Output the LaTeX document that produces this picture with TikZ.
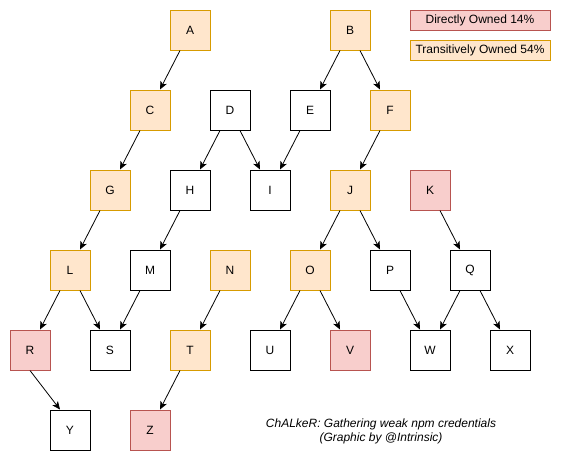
\documentclass[tikz,border=0pt]{standalone}
\usepackage{fontspec}
\setmainfont{Liberation Sans}
\usepackage[rgb]{xcolor}
\usetikzlibrary{arrows.meta}

\definecolor{directfill}{HTML}{F8CECC}
\definecolor{directdraw}{HTML}{B85450}
\definecolor{transfill}{HTML}{FFE6CC}
\definecolor{transdraw}{HTML}{D79B00}

\tikzset{
 pkg/.style={draw, line width=1pt, minimum size=40pt, inner sep=0pt, font=\fontsize{12}{14}\selectfont},
 direct/.style={pkg, fill=directfill, draw=directdraw},
 trans/.style={pkg, fill=transfill, draw=transdraw},
 legend/.style={minimum width=140pt, minimum height=20pt},
 dep/.style={-{Stealth[length=8pt,width=7pt,inset=2pt]}, line width=0.8pt, black}
}

\begin{document}
\begin{tikzpicture}[x=1pt, y=-1pt]

\useasboundingbox (0,0) rectangle (561,461);

%% packages, row by row
\path
(190,30) node[trans](A) {A}
(350,30) node[trans](B) {B}
(150,110) node[trans](C) {C}
(230,110) node[pkg](D) {D}
(310,110) node[pkg](E) {E}
(390,110) node[trans](F) {F}
(110,190) node[trans](G) {G}
(190,190) node[pkg](H) {H}
(270,190) node[pkg](I) {I}
(350,190) node[trans](J) {J}
(430,190) node[direct](K) {K}
(70,270) node[trans](L) {L}
(150,270) node[pkg](M) {M}
(230,270) node[trans](N) {N}
(310,270) node[trans](O) {O}
(390,270) node[pkg](P) {P}
(470,270) node[pkg](Q) {Q}
(30,350) node[direct](R) {R}
(110,350) node[pkg](S) {S}
(190,350) node[trans](T) {T}
(270,350) node[pkg](U) {U}
(350,350) node[direct](V) {V}
(430,350) node[pkg](W) {W}
(510,350) node[pkg](X) {X}
(70,430) node[pkg](Y) {Y}
(150,430) node[direct](Z) {Z};

%% legend
\path
(480,20) node[direct, legend](directly) {Directly Owned 14\%}
(480,50) node[trans, legend](transitively) {Transitively Owned 54\%};

%% dependencies going down-left
\draw[dep] ([xshift=-10pt]A.south) -- ([xshift=10pt]C.north);
\draw[dep] ([xshift=-10pt]B.south) -- ([xshift=10pt]E.north);
\draw[dep] ([xshift=-10pt]C.south) -- ([xshift=10pt]G.north);
\draw[dep] ([xshift=-10pt]D.south) -- ([xshift=10pt]H.north);
\draw[dep] ([xshift=-10pt]E.south) -- ([xshift=10pt]I.north);
\draw[dep] ([xshift=-10pt]F.south) -- ([xshift=10pt]J.north);
\draw[dep] ([xshift=-10pt]G.south) -- ([xshift=10pt]L.north);
\draw[dep] ([xshift=-10pt]H.south) -- ([xshift=10pt]M.north);
\draw[dep] ([xshift=-10pt]J.south) -- ([xshift=10pt]O.north);
\draw[dep] ([xshift=-10pt]L.south) -- ([xshift=10pt]R.north);
\draw[dep] ([xshift=-10pt]M.south) -- ([xshift=10pt]S.north);
\draw[dep] ([xshift=-10pt]N.south) -- ([xshift=10pt]T.north);
\draw[dep] ([xshift=-10pt]O.south) -- ([xshift=10pt]U.north);
\draw[dep] ([xshift=-10pt]Q.south) -- ([xshift=10pt]W.north);
\draw[dep] ([xshift=-10pt]T.south) -- ([xshift=10pt]Z.north);

%% dependencies going down-right
\draw[dep] ([xshift=10pt]B.south) -- ([xshift=-10pt]F.north);
\draw[dep] ([xshift=10pt]D.south) -- ([xshift=-10pt]I.north);
\draw[dep] ([xshift=10pt]J.south) -- ([xshift=-10pt]P.north);
\draw[dep] ([xshift=10pt]K.south) -- ([xshift=-10pt]Q.north);
\draw[dep] ([xshift=10pt]L.south) -- ([xshift=-10pt]S.north);
\draw[dep] ([xshift=10pt]O.south) -- ([xshift=-10pt]V.north);
\draw[dep] ([xshift=10pt]P.south) -- ([xshift=-10pt]W.north);
\draw[dep] ([xshift=10pt]Q.south) -- ([xshift=-10pt]X.north);
\draw[dep] (R.south) -- ([xshift=-10pt]Y.north);

%% caption
\node[align=center, font=\fontsize{12}{14}\selectfont\itshape](caption) at (381,431)
 {ChALkeR: Gathering weak npm credentials\\(Graphic by @Intrinsic)};

\end{tikzpicture}
\end{document}
